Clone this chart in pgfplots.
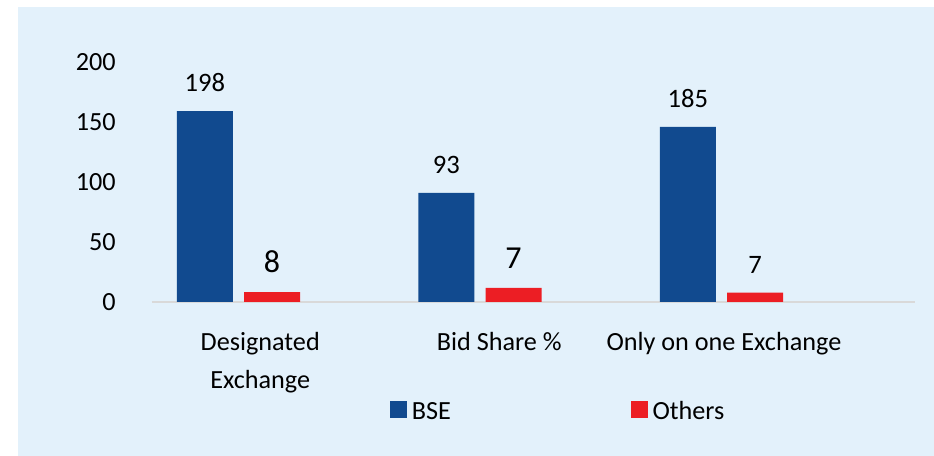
\documentclass[border=0pt]{standalone}
\usepackage{fontspec}
\setmainfont{Carlito}
\usepackage{pgfplots}
\pgfplotsset{compat=1.18}
\definecolor{bgblue}{HTML}{E3F1FB}
\definecolor{bseblue}{HTML}{114A8F}
\definecolor{othred}{HTML}{EC1E24}
\definecolor{axisgray}{HTML}{D9D9D9}
\newcommand{\bignum}[1]{{\fontsize{16}{16}\selectfont #1}}
\newcommand{\chartfont}{\fontsize{13.1}{19}\selectfont}
\pgfplotsset{sqlegend/.style={legend image code/.code={\fill[##1] (0pt,-3pt) rectangle (8.25pt,5.5pt);}}}

\begin{document}
\begin{tikzpicture}
\useasboundingbox (0,0) rectangle (467pt,228pt);
\fill[bgblue] (9pt,0) rectangle (467pt,224.5pt);
\begin{axis}[
  at={(76pt,77pt)}, anchor=south west,
  scale only axis, width=381.5pt, height=120pt,
  xmin=-0.358, xmax=2.801, ymin=0, ymax=200,
  axis lines*=left,
  y axis line style={draw=none},
  x axis line style={draw=axisgray, line width=1.2pt},
  major tick length=0pt,
  ytick={0,50,100,150,200},
  xtick={0.09,1.08,2.01},
  xticklabels={{Designated\\Exchange},{Bid Share \%},{Only on one Exchange}},
  tick label style={font=\chartfont},
  /pgf/number format/assume math mode=true,
  yticklabel style={inner sep=0pt, anchor=east, xshift=-18pt},
  xticklabel style={inner sep=0pt, anchor=north, yshift=-15pt, align=center},
  nodes near coords style={font=\fontsize{13.3}{16}\selectfont, inner sep=0pt, anchor=south, yshift=9.5pt, text=black},
  legend columns=2,
  legend style={at={(0.312,-0.458)}, anchor=west, draw=none, fill=none,
                inner sep=0pt, font=\chartfont, nodes={inner sep=0pt},
                column sep=2.5pt,
                /tikz/every even column/.append style={column sep=90pt}},
]
% BSE bars sit left of each group centre, Others to the right
\addplot[ybar, bar width=28pt, bar shift=0pt, fill=bseblue, draw=none,
  point meta=explicit symbolic, nodes near coords, sqlegend]
  coordinates {(-0.139,159) [198] (0.861,91) [93] (1.861,146) [185]};
\addplot[ybar, bar width=28pt, bar shift=0pt, fill=othred, draw=none,
  point meta=explicit symbolic, nodes near coords, sqlegend]
  coordinates {(0.139,8.3) [\bignum{8}] (1.139,11.7) [\bignum{7}] (2.139,7.8) [7]};
\legend{BSE, Others}
\end{axis}
\end{tikzpicture}
\end{document}
